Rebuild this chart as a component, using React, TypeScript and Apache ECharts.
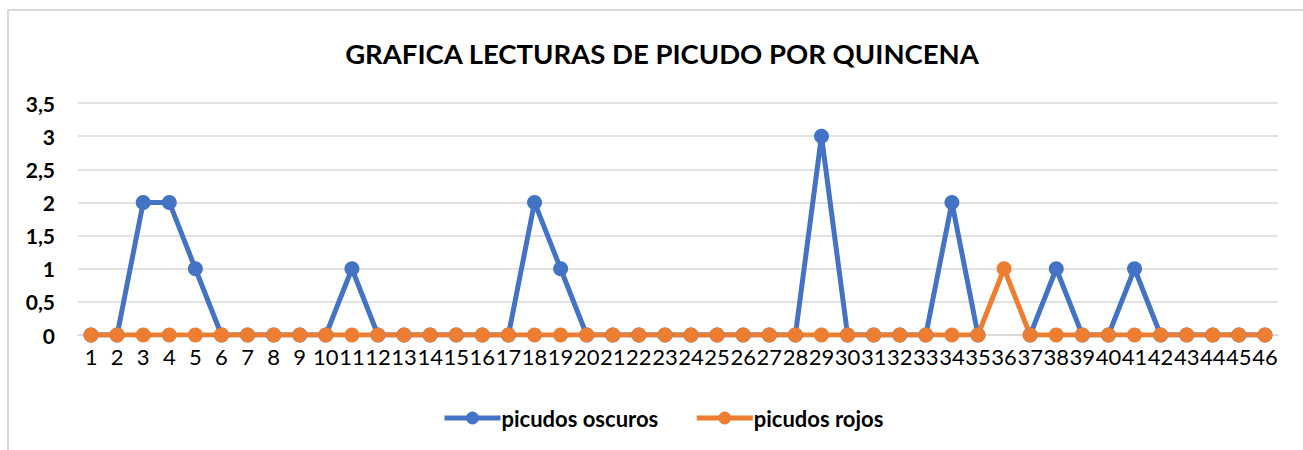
import React, { useEffect, useRef } from "react";
import * as echarts from "echarts";

const categories: string[] = [];
for (let i = 1; i <= 46; i++) categories.push(String(i));

const oscuros: (number | null)[] = [
  0, 0, 2, 2, 1, 0, 0, 0, 0, 0,
  1, 0, 0, 0, 0, 0, 0, 2, 1, 0,
  0, 0, 0, 0, 0, 0, 0, 0, 3, 0,
  0, 0, 0, 2, 0, null, 0, 1, 0, 0,
  1, 0, 0, 0, 0, 0,
];
const rojos = [
  0, 0, 0, 0, 0, 0, 0, 0, 0, 0,
  0, 0, 0, 0, 0, 0, 0, 0, 0, 0,
  0, 0, 0, 0, 0, 0, 0, 0, 0, 0,
  0, 0, 0, 0, 0, 1, 0, 0, 0, 0,
  0, 0, 0, 0, 0, 0,
];
const seriesNames = ["picudos oscuros", "picudos rojos"];
const titleText = "GRAFICA LECTURAS DE PICUDO POR QUINCENA";

const BLUE = "#4472C4";
const ORANGE = "#ED7D31";
const FONT = "Lato, 'Open Sans', sans-serif";

export default function App() {
  const ref = useRef<HTMLDivElement>(null);
  useEffect(() => {
    if (!ref.current) return;
    const chart = echarts.init(ref.current, null, { renderer: "svg" });
    chart.setOption({
      animation: false,
      backgroundColor: "#ffffff",
      textStyle: { fontFamily: FONT },
      title: {
        text: titleText,
        left: 657,
        top: 34,
        textAlign: "center",
        textStyle: { fontSize: 27.5, fontWeight: "bold", color: "#000", fontFamily: FONT },
      },
      graphic: [
        {
          type: "polyline",
          shape: { points: [[8, 460], [8, 10], [1320, 10]] },
          style: { stroke: "#d9d9d9", lineWidth: 2, fill: "none" },
          silent: true,
        },
      ],
      legend: {
        left: 437,
        top: 402,
        itemWidth: 56,
        itemHeight: 16,
        itemGap: 36,
        data: seriesNames,
        lineStyle: { width: 5 },
        textStyle: { fontSize: 22, fontWeight: "bold", color: "#000", fontFamily: FONT, padding: [0, 0, 0, -4] },
      },
      grid: { left: 78, right: 25, top: 103, bottom: 115, containLabel: false },
      xAxis: {
        type: "category",
        data: categories,
        boundaryGap: true,
        axisLine: { show: true, lineStyle: { color: "#d9d9d9", width: 1.5 } },
        axisTick: { show: false },
        axisLabel: { interval: 0, margin: 10, fontSize: 22, color: "#000", fontFamily: FONT },
      },
      yAxis: {
        type: "value",
        min: 0,
        max: 3.5,
        interval: 0.5,
        axisLine: { show: false },
        axisTick: { show: false },
        splitLine: { lineStyle: { color: "#d9d9d9", width: 1.5 } },
        axisLabel: {
          margin: 23,
          fontSize: 21,
          fontWeight: "bold",
          color: "#000",
          fontFamily: FONT,
          formatter: (v: number) => String(v).replace(".", ","),
        },
      },
      series: [
        {
          name: seriesNames[0],
          type: "line",
          data: oscuros,
          symbol: "circle",
          symbolSize: 15,
          connectNulls: false,
          itemStyle: { color: BLUE },
          lineStyle: { color: BLUE, width: 5 },
        },
        {
          name: seriesNames[1],
          type: "line",
          data: rojos,
          symbol: "circle",
          symbolSize: 15,
          itemStyle: { color: ORANGE },
          lineStyle: { color: ORANGE, width: 5 },
        },
      ],
    });
    return () => chart.dispose();
  }, []);
  return (
    <div
      ref={ref}
      style={{ position: "fixed", left: 0, top: 0, width: 1303, height: 450, background: "#fff" }}
    />
  );
}
